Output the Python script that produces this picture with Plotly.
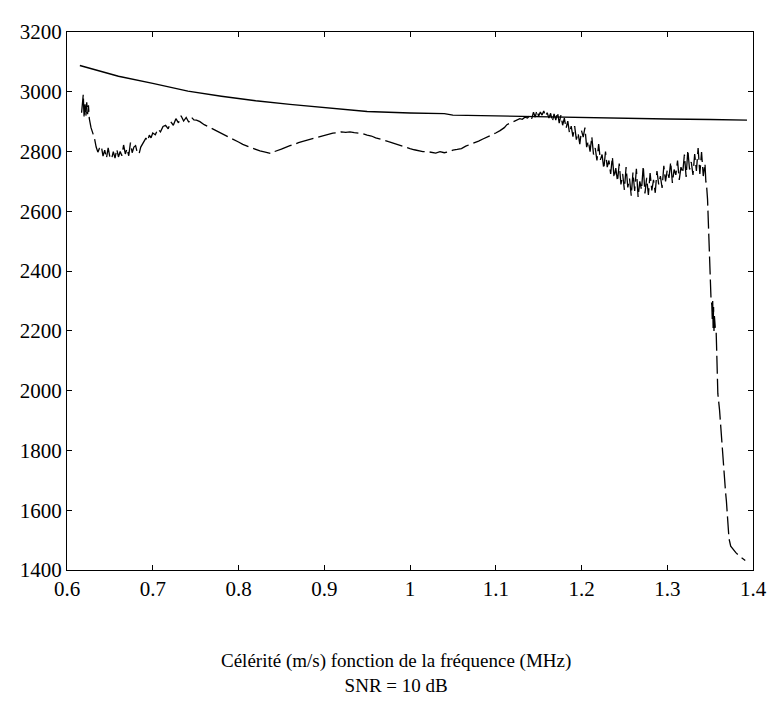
import plotly.graph_objects as go

# Theoretical (smooth) curve
x_theory = [0.615, 0.636, 0.66, 0.70, 0.741, 0.78, 0.82, 0.86, 0.90, 0.95, 1.00, 1.04,
            1.05, 1.10, 1.15, 1.20, 1.25, 1.30, 1.35, 1.393]
y_theory = [3088, 3070, 3052, 3028, 3002, 2985, 2970, 2958, 2947, 2934, 2929, 2927,
            2922, 2919, 2917, 2914, 2911, 2909, 2907, 2905]

# Estimated (noisy) curve, SNR = 10 dB  -- segment 1 (0.617 - 0.751)
x_est_1 = [0.617, 0.618, 0.619, 0.6195, 0.620, 0.621, 0.622, 0.623, 0.624, 0.625, 0.626,
           0.628, 0.630, 0.632, 0.634, 0.636, 0.638,
           0.640, 0.642, 0.644, 0.646, 0.648, 0.650, 0.652, 0.654, 0.656, 0.658, 0.660,
           0.662, 0.664, 0.666, 0.668, 0.670, 0.672, 0.674, 0.676, 0.678, 0.680, 0.682,
           0.684, 0.686, 0.688, 0.690, 0.692, 0.694, 0.696, 0.698, 0.700, 0.703, 0.706,
           0.709, 0.712, 0.715, 0.718, 0.721, 0.724, 0.727, 0.730, 0.733, 0.736, 0.739,
           0.742, 0.745, 0.748, 0.751]
y_est_1 = [2930, 2985, 2992, 2945, 2912, 2958, 2918, 2965, 2925, 2955, 2910,
           2880, 2862, 2845, 2815, 2798, 2812,
           2818, 2785, 2805, 2778, 2812, 2782, 2775, 2800, 2778, 2808, 2782,
           2800, 2786, 2822, 2792, 2810, 2786, 2830, 2796, 2815, 2820, 2796,
           2792, 2815, 2826, 2832, 2845, 2835, 2855, 2846, 2862, 2856, 2876,
           2866, 2884, 2888, 2876, 2900, 2888, 2910, 2896, 2920, 2902, 2914,
           2898, 2915, 2906, 2905]

# segment 2 (0.755 - 1.188), smooth oscillation then noisy peak
x_est_2 = [0.755, 0.760, 0.765, 0.770, 0.775, 0.780, 0.785, 0.790, 0.795, 0.800, 0.805,
           0.810, 0.815, 0.820, 0.825, 0.830, 0.835, 0.838, 0.842, 0.846, 0.850, 0.855,
           0.860, 0.865, 0.870, 0.875, 0.880, 0.885, 0.890, 0.895, 0.900, 0.905, 0.910,
           0.915, 0.920, 0.925, 0.930, 0.935, 0.940, 0.945, 0.950, 0.955, 0.960, 0.965,
           0.970, 0.975, 0.980, 0.985, 0.990, 0.995, 1.000, 1.005, 1.010, 1.015, 1.020,
           1.025, 1.030, 1.035, 1.040, 1.045, 1.050, 1.055, 1.060, 1.065, 1.070, 1.075,
           1.080, 1.085, 1.090, 1.095, 1.100, 1.105, 1.110, 1.113, 1.116, 1.119, 1.122,
           1.125, 1.128, 1.131, 1.134, 1.137, 1.140, 1.142, 1.144, 1.146, 1.148, 1.150,
           1.152, 1.154, 1.156, 1.158, 1.160, 1.162, 1.164, 1.166, 1.168, 1.170, 1.172,
           1.174, 1.176, 1.178, 1.180, 1.182, 1.184, 1.186, 1.188]
y_est_2 = [2900, 2890, 2883, 2875, 2868, 2862, 2853, 2846, 2840, 2832, 2824,
           2818, 2812, 2808, 2802, 2799, 2795, 2793, 2800, 2803, 2808, 2814,
           2820, 2823, 2830, 2834, 2838, 2842, 2846, 2850, 2854, 2858, 2862,
           2863, 2866, 2864, 2866, 2863, 2862, 2860, 2855, 2852, 2846, 2843,
           2838, 2833, 2828, 2823, 2818, 2814, 2810, 2806, 2803, 2800, 2800,
           2797, 2795, 2800, 2796, 2799, 2805, 2807, 2810, 2818, 2823, 2830,
           2835, 2842, 2848, 2856, 2862, 2870, 2880, 2890, 2895, 2898, 2902,
           2906, 2910, 2908, 2915, 2912, 2922, 2910, 2932, 2915, 2938, 2918,
           2932, 2922, 2936, 2918, 2930, 2912, 2928, 2900, 2926, 2905, 2932,
           2895, 2922, 2888, 2912, 2878, 2902, 2862, 2885]

# segment 3 (1.190 - 1.345), strongly noisy region
x_est_3 = [1.190, 1.192, 1.194, 1.196, 1.198, 1.200, 1.202, 1.204, 1.206, 1.208, 1.210,
           1.212, 1.214, 1.216, 1.218, 1.220, 1.222, 1.224, 1.226, 1.228, 1.230, 1.232,
           1.234, 1.236, 1.238, 1.240, 1.242, 1.244, 1.246, 1.248, 1.250, 1.252, 1.254,
           1.256, 1.258, 1.260, 1.262, 1.264, 1.266, 1.268, 1.270, 1.272, 1.274, 1.276,
           1.278, 1.280, 1.282, 1.284, 1.286, 1.288, 1.290, 1.292, 1.294, 1.296, 1.298,
           1.300, 1.302, 1.304, 1.306, 1.308, 1.310, 1.312, 1.314, 1.316, 1.318, 1.320,
           1.322, 1.324, 1.326, 1.328, 1.330, 1.332, 1.334, 1.336, 1.338, 1.340, 1.342,
           1.344, 1.345]
y_est_3 = [2850, 2885, 2840, 2862, 2825, 2870, 2848, 2880, 2815, 2835, 2800,
           2850, 2790, 2812, 2770, 2825, 2772, 2790, 2742, 2800, 2748, 2770,
           2725, 2782, 2712, 2745, 2700, 2760, 2690, 2725, 2672, 2748, 2680,
           2710, 2652, 2730, 2668, 2742, 2648, 2700, 2672, 2752, 2660, 2712,
           2655, 2728, 2670, 2705, 2662, 2735, 2690, 2718, 2678, 2752, 2700,
           2738, 2712, 2765, 2695, 2740, 2722, 2770, 2705, 2748, 2728, 2790,
           2715, 2805, 2740, 2765, 2722, 2792, 2735, 2812, 2725, 2798, 2718,
           2760, 2700]

# segment 4 (1.346 - 1.391), steep drop
x_est_4 = [1.346, 1.347, 1.3475, 1.348, 1.3485, 1.349, 1.3495, 1.350, 1.351, 1.352, 1.3525,
           1.353, 1.3535, 1.354, 1.3545, 1.355, 1.356, 1.357, 1.3575, 1.358, 1.3585, 1.359,
           1.361, 1.3625, 1.364, 1.365, 1.367, 1.368, 1.369, 1.370, 1.371, 1.372, 1.374,
           1.377, 1.380, 1.384, 1.388, 1.391]
y_est_4 = [2680, 2640, 2600, 2540, 2480, 2430, 2380, 2345, 2310, 2285, 2240,
           2300, 2210, 2280, 2200, 2250, 2210, 2200, 2150, 2080, 2020, 1990,
           1935, 1870, 1800, 1770, 1700, 1660, 1630, 1590, 1540, 1505, 1480,
           1468, 1458, 1447, 1438, 1432]

x_est = x_est_1 + x_est_2 + x_est_3 + x_est_4
y_est = y_est_1 + y_est_2 + y_est_3 + y_est_4

x_ticks = [0.6, 0.7, 0.8, 0.9, 1.0, 1.1, 1.2, 1.3, 1.4]
y_ticks = [1400, 1600, 1800, 2000, 2200, 2400, 2600, 2800, 3000, 3200]
title_lines = ["Célérité (m/s) fonction de la fréquence (MHz)", "SNR = 10 dB"]

FONT = "Liberation Serif"

fig = go.Figure()
fig.add_trace(go.Scatter(x=x_theory, y=y_theory, mode="lines",
                         line=dict(color="black", width=1.4), showlegend=False))
fig.add_trace(go.Scatter(x=x_est, y=y_est, mode="lines",
                         line=dict(color="black", width=1.3, dash="18px,5px"),
                         showlegend=False))

axis_common = dict(showgrid=False, zeroline=False, showline=True, linecolor="black",
                   linewidth=1, mirror="ticks", ticks="inside", ticklen=5,
                   tickcolor="black", tickfont=dict(family=FONT, size=21, color="black"))

fig.update_xaxes(range=[0.6, 1.4], tickvals=x_ticks, **axis_common)
fig.update_yaxes(range=[1400, 3200], tickvals=y_ticks, **axis_common)

fig.add_annotation(text="<br>".join(title_lines), xref="paper", yref="paper",
                   x=0.479, y=0, yanchor="top", yshift=-78, showarrow=False,
                   font=dict(family=FONT, size=19, color="black"), align="center")

fig.update_layout(width=771, height=692, plot_bgcolor="white", paper_bgcolor="white",
                  font=dict(family=FONT),
                  margin=dict(l=58, r=16, t=12, b=130))

fig.write_html("out.html")
